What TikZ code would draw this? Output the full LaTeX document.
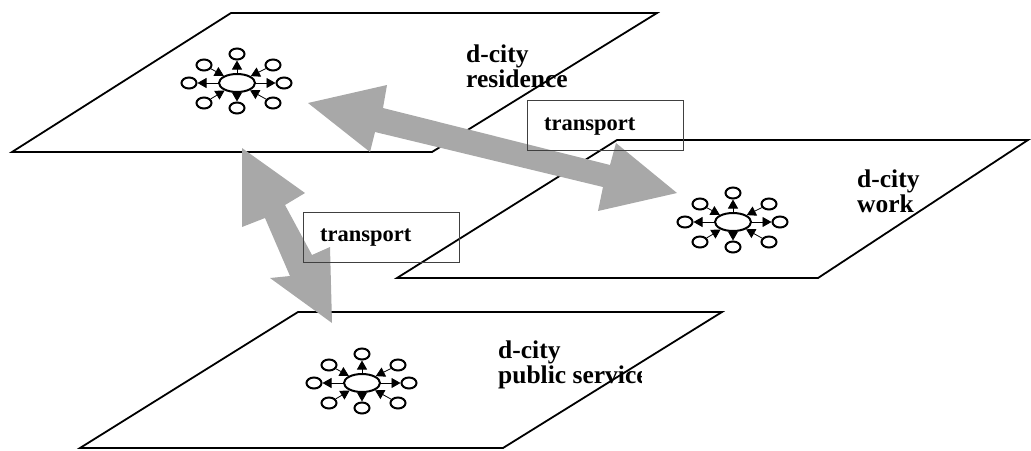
\documentclass[tikz,border=0pt]{standalone}
\usepackage{fontspec}
\setmainfont{Liberation Serif}
\usetikzlibrary{arrows.meta,calc,shapes.geometric}

\definecolor{arrowgray}{RGB}{168,168,168}

\tikzset{
	plane/.style={line width=1.8pt},
	hub/.style={ellipse, draw, line width=2pt, fill=white, minimum width=36pt, minimum height=18pt, inner sep=0pt},
	sat/.style={ellipse, draw, line width=2pt, fill=white, minimum width=15pt, minimum height=11pt, inner sep=0pt},
	hubout/.style={line width=0.8pt, -{Triangle[length=9pt,width=10pt]}},
	hubin/.style={line width=0.8pt, {Triangle[length=9pt,width=10pt]}-},
	city/.style={font=\fontsize{25.5}{25}\selectfont\bfseries, align=left, anchor=base west, inner sep=0pt},
	tbox/.style={draw=black!75, line width=1.2pt, minimum width=156pt, minimum height=50pt, inner sep=0pt, anchor=north west},
	ttext/.style={font=\fontsize{22.5}{24}\selectfont\bfseries, anchor=base west, inner sep=0pt}
}

% one d-city network: centre + eight satellites
\newcommand{\cityhub}[2]{%
	\node[hub] (#1) at (#2) {};
	\foreach \n/\dx/\dy/\dir in {n/0/-29/hubout, s/0/25/hubout, w/-48/0/hubout, e/47/0/hubout, nw/-33/-18/hubin, ne/36/-18/hubin, sw/-33/20/hubin, se/36/20/hubin}{
		\node[sat] (#1-\n) at ($(#1)+(\dx,\dy)$) {};
		\draw[\dir] (#1) -- (#1-\n);
	}
}

\begin{document}
\begin{tikzpicture}[x=1pt,y=-1pt]
	\useasboundingbox (0,0) rectangle (1031,450);
	
	% planes
	\draw[plane] (231,13) -- (657,13) -- (432,152) -- (12,152) -- cycle;
	\draw[plane] (617,140) -- (1028,140) -- (818,278) -- (397,278) -- cycle;
	\draw[plane] (298,312) -- (722,312) -- (503,448) -- (80,448) -- cycle;
	
	% transport arrows
	\fill[arrowgray] (308,103) -- (387,85) -- (383,108) -- (610,165) -- (616,143) -- (677,193)
		-- (598,211) -- (603,187) -- (375,132) -- (370,152) -- cycle;
	\fill[arrowgray] (242,148) -- (305,193) -- (285,205) -- (312,255) -- (330,247) -- (332,323)
		-- (270,278) -- (290,276) -- (265,218) -- (242,227) -- cycle;
	
	% networks
	\cityhub{res}{237,83}
	\cityhub{work}{733,222}
	\cityhub{pub}{362,383}
	
	% labels (base = last line)
	\node[city] (res-label) at (466,87) {d-city\\residence};
	\node[city] (work-label) at (857,212) {d-city\\work};
	\begin{scope}
		\clip (480,320) rectangle (641,400);
		\node[city] (pub-label) at (498,383) {d-city\\public service};
	\end{scope}
	
	% transport boxes
	\node[tbox] (tr1) at (527,100) {};
	\node[ttext] (tr1-text) at ($(tr1.north west)+(17,30)$) {transport};
	\node[tbox] (tr2) at (303,212) {};
	\node[ttext] (tr2-text) at ($(tr2.north west)+(17,29)$) {transport};
\end{tikzpicture}
\end{document}
